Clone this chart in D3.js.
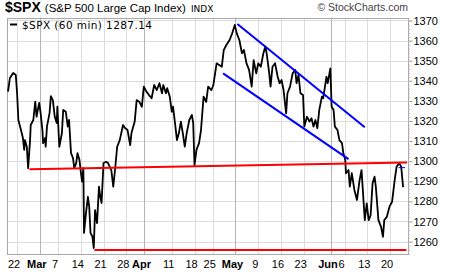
<!DOCTYPE html>
<html lang="en">
<head>
    <meta charset="UTF-8">
    <script src="https://cdnjs.cloudflare.com/ajax/libs/d3/7.8.5/d3.min.js"></script>
    <title>$SPX 60 min</title>
    <style>
        body { margin: 0; background: #fff; }
        svg { display: block; font-family: 'Liberation Sans', Arial, sans-serif; }
    </style>
</head>
<body>
    <div id="chart"></div>

    <script>
        // hourly bar number (7 bars per trading day, bar 0 = Feb 17 open) and price
        const bars = [0, 3, 8, 12, 14, 16, 20, 23, 25, 26, 29, 31, 34, 35, 39, 42, 44, 48, 50, 53,
            54, 57, 58, 60, 64, 66, 69, 72, 75, 76, 79, 83, 85, 89, 92, 94, 97, 100, 102, 105,
            107, 110, 112, 114, 116, 117, 120, 123, 125, 127, 130, 132, 134, 137, 140, 142, 144, 147, 151, 154,
            159, 162, 165, 168, 172, 177, 180, 184, 188, 190, 195, 198, 202, 206, 209, 213, 217, 221, 225, 229,
            233, 237, 239, 243, 245, 249, 252, 254, 257, 260, 263, 266, 269, 272, 275, 279, 283, 285, 287, 290,
            294, 297, 301, 305, 308, 313, 316, 321, 325, 329, 332, 336, 341, 345, 349, 352, 356, 360, 363, 367,
            371, 375, 378, 382, 385, 389, 393, 396, 398, 402, 404, 407, 411, 415, 418, 421, 424, 428, 430, 434,
            438, 442, 444, 447, 450, 454, 456, 460, 464, 467, 470, 473, 476, 479, 483, 485, 490, 492, 496, 498,
            501, 503, 507, 510, 514, 516, 519, 520, 524, 526, 529, 533, 537, 541, 544, 547, 549, 552, 555, 558,
            561, 564, 566, 570, 574, 577, 579, 583, 587, 591, 595, 598, 602, 605, 608];
        const prices = [1334.6, 1341.4, 1343.9, 1342.9, 1333.9, 1320.5, 1315.5, 1311.5, 1305.6, 1310.5, 1307.2, 1296.5, 1310.5, 1318, 1320.5, 1329.6, 1322.1, 1329, 1324.6, 1315.5,
            1309, 1311.5, 1307.2, 1317.2, 1324, 1332.4, 1330.4, 1322.1, 1319, 1327.1, 1307.2, 1314, 1325.5, 1324.6, 1317.2, 1320.5, 1304, 1301.6, 1296.6, 1299,
            1304, 1300.6, 1294.8, 1289.8, 1296.6, 1264.3, 1274.2, 1282.3, 1277.4, 1264.3, 1262.4, 1256.8, 1275.7, 1269.2, 1287.3, 1282.3, 1279.2, 1299.1, 1299.7, 1299.1,
            1295.6, 1287.3, 1296.6, 1307.2, 1310.5, 1318, 1316.5, 1315.5, 1308, 1314, 1319.7, 1330.4, 1329.6, 1327.1, 1337.1, 1334.6, 1332.9, 1331.3, 1337.9, 1335.4,
            1338.8, 1333.8, 1337.9, 1333.8, 1336.3, 1332.1, 1324.6, 1327.1, 1318.9, 1310.5, 1314, 1319.7, 1314, 1307.2, 1314, 1320.5, 1323, 1318.9, 1298.1, 1305.6,
            1309, 1315.5, 1332.1, 1329.5, 1337.1, 1335.4, 1337.9, 1348.7, 1347.9, 1347, 1355.3, 1357.8, 1360.3, 1363.6, 1367.8, 1363.6, 1360.3, 1353.7, 1355.3, 1348.7,
            1345.4, 1337.1, 1350.3, 1343.7, 1348.7, 1347, 1353.7, 1357, 1353.7, 1343.7, 1337.1, 1347, 1348.7, 1342, 1338.8, 1340.4, 1335.4, 1323.8, 1333.8, 1337.1,
            1343.7, 1345.4, 1338.8, 1342.9, 1333.8, 1332.9, 1317.2, 1322.1, 1319.7, 1321.4, 1317.2, 1320.5, 1316.4, 1325.5, 1332.1, 1331.3, 1342, 1338.8, 1346.2, 1327.1,
            1325.5, 1317.2, 1315.5, 1310.5, 1308.9, 1303.9, 1300.6, 1294, 1295.6, 1287.3, 1294, 1285.7, 1280.7, 1290.6, 1295.6, 1280.7, 1270.7, 1279, 1270.7, 1273.2,
            1289, 1292.3, 1287.3, 1270.7, 1267.4, 1262.4, 1270.7, 1272.4, 1277.4, 1279.8, 1290.6, 1297.3, 1298.9, 1297.3, 1287.14];

        // date ticks: trading day number (0 = Feb 17) and label
        const tickDays = [2, 7, 11, 16, 21, 26, 30, 36, 41, 45, 50, 55, 60, 65, 71, 74, 79, 84];
        const tickLabels = ["22", "Mar", "7", "14", "21", "28", "Apr", "11", "18", "25", "May", "9", "16", "23", "Jun", "6", "13", "20"];
        const monthTicks = ["Mar", "Apr", "May", "Jun"];

        const priceTicks = [1260, 1270, 1280, 1290, 1300, 1310, 1320, 1330, 1340, 1350, 1360, 1370];

        // drawn trend lines: [bar, price] -> [bar, price]
        const blueLines = [
            [[353, 1368.3], [549, 1316.9]],
            [[331, 1343.7], [524, 1301.0]]
        ];
        const redLines = [
            [[33, 1296.0], [614, 1299.3]],
            [[133, 1255.8], [613, 1255.8]]
        ];
        const lastMark = [[601, 1296.8], [611, 1296.8]];

        const width = 451, height = 272;
        const plot = { left: 7, right: 408, top: 17.5, bottom: 254 };

        const svg = d3.select("#chart").append("svg")
            .attr("width", width)
            .attr("height", height);

        const x = d3.scaleLinear().domain([-1.5, 615.5]).range([plot.left, plot.right]);
        const y = d3.scaleLinear().domain([1253.83, 1371.49]).range([plot.bottom, plot.top]);

        // horizontal grid
        svg.append("g")
            .selectAll("line")
            .data(priceTicks)
            .join("line")
            .attr("x1", plot.left).attr("x2", plot.right)
            .attr("y1", d => Math.round(y(d)) + 0.5).attr("y2", d => Math.round(y(d)) + 0.5)
            .attr("stroke", "#dcdcdc");

        // vertical grid, month starts darker
        svg.append("g")
            .selectAll("line")
            .data(tickDays)
            .join("line")
            .attr("x1", d => Math.round(x(d * 7)) + 0.5).attr("x2", d => Math.round(x(d * 7)) + 0.5)
            .attr("y1", plot.top).attr("y2", plot.bottom)
            .attr("stroke", (d, i) => monthTicks.includes(tickLabels[i]) ? "#b4b4b4" : "#dcdcdc");

        // frame
        svg.append("rect")
            .attr("x", plot.left + 0.5).attr("y", Math.round(plot.top) + 0.5)
            .attr("width", plot.right - plot.left).attr("height", plot.bottom - Math.round(plot.top))
            .attr("fill", "none")
            .attr("stroke", "#a8a8a8");

        // right price axis
        const yAxis = d3.axisRight(y)
            .tickValues(priceTicks)
            .tickSize(4)
            .tickPadding(1)
            .tickFormat(d3.format("d"));

        const yAxisG = svg.append("g")
            .attr("transform", `translate(${plot.right + 0.5},0)`)
            .call(yAxis);
        yAxisG.select(".domain").remove();
        yAxisG.selectAll("line").attr("stroke", "#999");
        yAxisG.selectAll("text").attr("font-size", 11).attr("fill", "#000")
            .attr("font-family", "'Liberation Sans', Arial, sans-serif");

        // minor ticks
        svg.append("g")
            .selectAll("line")
            .data(d3.range(1254, 1372, 2))
            .join("line")
            .attr("x1", plot.right).attr("x2", plot.right + 2)
            .attr("y1", d => Math.round(y(d)) + 0.5).attr("y2", d => Math.round(y(d)) + 0.5)
            .attr("stroke", "#bbb");

        // date labels
        svg.append("g")
            .selectAll("text")
            .data(tickDays)
            .join("text")
            .attr("x", d => x(d * 7) - 3)
            .attr("y", 268)
            .attr("text-anchor", "middle")
            .attr("font-size", 11)
            .attr("font-weight", (d, i) => monthTicks.includes(tickLabels[i]) ? "bold" : "normal")
            .text((d, i) => tickLabels[i]);

        // price line
        const line = d3.line()
            .x(d => x(d[0]))
            .y(d => y(d[1]));

        svg.append("path")
            .datum(bars.map((b, i) => [b, prices[i]]))
            .attr("d", line)
            .attr("fill", "none")
            .attr("stroke", "#000")
            .attr("stroke-width", 1.8)
            .attr("stroke-linejoin", "round");

        // trend lines
        svg.append("g")
            .selectAll("path")
            .data(redLines)
            .join("path")
            .attr("d", line)
            .attr("stroke", "#ff0000")
            .attr("stroke-width", 2);

        svg.append("g")
            .selectAll("path")
            .data(blueLines)
            .join("path")
            .attr("d", line)
            .attr("stroke", "#0000ff")
            .attr("stroke-width", 2);

        svg.append("path")
            .attr("d", line(lastMark))
            .attr("stroke", "#0000ff")
            .attr("stroke-width", 1);

        // legend
        svg.append("line")
            .attr("x1", 10).attr("x2", 17)
            .attr("y1", 24.5).attr("y2", 24.5)
            .attr("stroke", "#000").attr("stroke-width", 2);
        svg.append("text")
            .attr("x", 22).attr("y", 28.5)
            .attr("font-family", "'DejaVu Sans', Verdana, sans-serif")
            .attr("font-size", 10.5)
            .attr("textLength", 130)
            .attr("lengthAdjust", "spacing")
            .text(`$SPX (60 min) ${prices[prices.length - 1]}`);

        // title
        const title = svg.append("text").attr("x", 5).attr("y", 11.5);
        title.append("tspan").attr("font-size", 14).attr("font-weight", "bold").text("$SPX");
        title.append("tspan").attr("font-size", 11.5).attr("dx", 4).text("(S&P 500 Large Cap Index)");
        title.append("tspan").attr("font-size", 9)
            .attr("font-family", "'DejaVu Sans', Verdana, sans-serif")
            .attr("dx", 5).text("INDX");

        svg.append("text")
            .attr("x", 408).attr("y", 11)
            .attr("text-anchor", "end")
            .attr("font-size", 10.5)
            .attr("fill", "#444")
            .text("© StockCharts.com");
    </script>
</body>
</html>
